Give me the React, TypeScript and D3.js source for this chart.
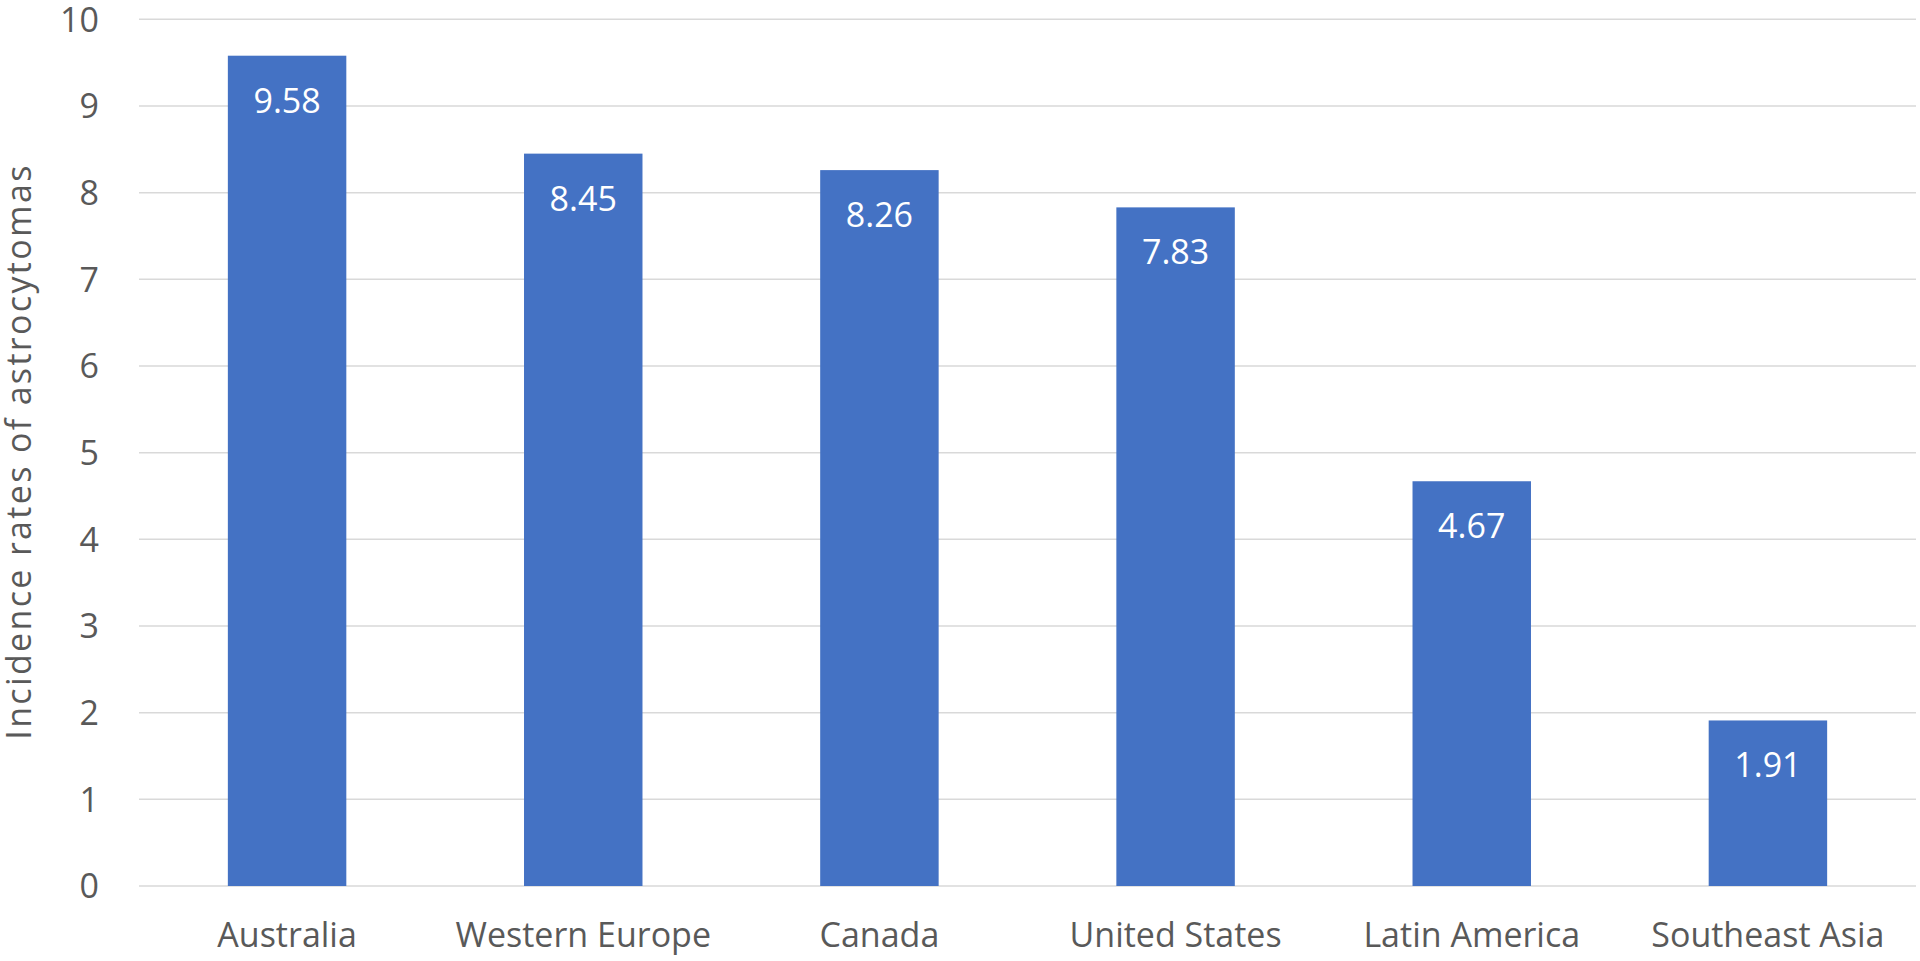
import React from "react";
import * as d3 from "d3";

const categories = ["Australia", "Western Europe", "Canada", "United States", "Latin America", "Southeast Asia"];
const values = [9.58, 8.45, 8.26, 7.83, 4.67, 1.91];
const yTicks = [0, 1, 2, 3, 4, 5, 6, 7, 8, 9, 10];
const yTitle = "Incidence rates of astrocytomas";

const W = 1920;
const H = 961;
const M = { left: 139, right: 4, top: 19.3, bottom: 75 };
const FONT = "'Open Sans', 'Noto Sans', sans-serif";

export default function App() {
  const x = d3.scaleBand<string>().domain(categories).range([M.left, W - M.right]).paddingInner(0.6).paddingOuter(0.3);
  const y = d3.scaleLinear().domain([0, 10]).range([H - M.bottom, M.top]);
  const plotMid = (y(0) + y(10)) / 2;
  return (
    <svg width={W} height={H} style={{ position: "absolute", left: 0, top: 0, background: "#fff" }} fontFamily={FONT}>
      {yTicks.map((t) => (
        <g key={t}>
          <line x1={M.left} x2={W - M.right} y1={y(t)} y2={y(t)} stroke="#d9d9d9" strokeWidth={1.5} />
          <text x={99} y={y(t)} dy="0.36em" textAnchor="end" fontSize={34} fill="#595959">{t}</text>
        </g>
      ))}
      {categories.map((c, i) => (
        <g key={c}>
          <rect x={x(c)!} width={x.bandwidth()} y={y(values[i])} height={y(0) - y(values[i])} fill="#4472c4" />
          <text x={x(c)! + x.bandwidth() / 2} y={y(values[i]) + 57} textAnchor="middle" fontSize={34} fill="#ffffff">{values[i].toFixed(2)}</text>
          <text x={x(c)! + x.bandwidth() / 2} y={947} textAnchor="middle" fontSize={34} fill="#595959">{c}</text>
        </g>
      ))}
      <text transform={`translate(31,${plotMid}) rotate(-90)`} textAnchor="middle" fontSize={34} textLength={574} lengthAdjust="spacing" fill="#595959">{yTitle}</text>
    </svg>
  );
}
